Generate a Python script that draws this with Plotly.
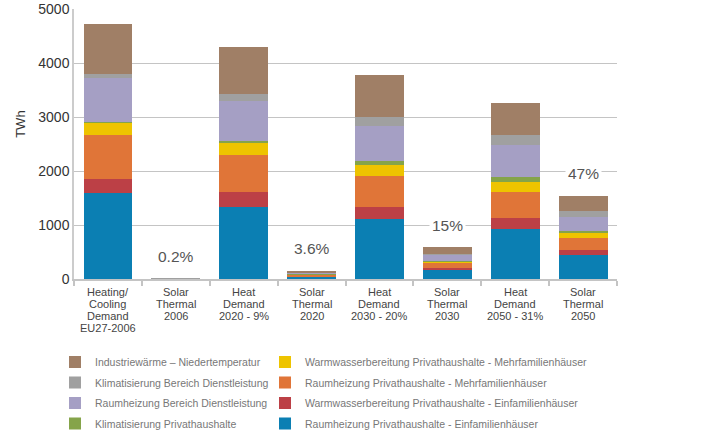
import plotly.graph_objects as go

categories = ["Heating/Cooling Demand EU27-2006", "Solar Thermal 2006",
              "Heat Demand 2020 - 9%", "Solar Thermal 2020",
              "Heat Demand 2030 - 20%", "Solar Thermal 2030",
              "Heat Demand 2050 - 31%", "Solar Thermal 2050"]
category_lines = [["Heating/", "Cooling", "Demand", "EU27-2006"],
                  ["Solar", "Thermal", "2006"],
                  ["Heat", "Demand", "2020 - 9%"],
                  ["Solar", "Thermal", "2020"],
                  ["Heat", "Demand", "2030 - 20%"],
                  ["Solar", "Thermal", "2030"],
                  ["Heat", "Demand", "2050 - 31%"],
                  ["Solar", "Thermal", "2050"]]

# stacked from bottom to top (TWh)
raum_efh = [1599, 0, 1340, 50, 1117, 179, 932, 451]
ww_efh = [259, 13, 277, 4, 223, 19, 204, 92]
raum_mfh = [815, 0, 685, 30, 574, 99, 481, 222]
ww_mfh = [222, 0, 229, 8, 203, 31, 185, 93]
klima_priv = [19, 0, 31, 15, 74, 6, 81, 37]
raum_dl = [814, 0, 740, 12, 649, 111, 592, 259]
klima_dl = [74, 2, 130, 6, 166, 19, 198, 111]
industrie = [926, 0, 870, 28, 778, 123, 592, 278]

solar_share_labels = {"Solar Thermal 2006": "0.2%", "Solar Thermal 2020": "3.6%",
                      "Solar Thermal 2030": "15%", "Solar Thermal 2050": "47%"}

y_ticks = [0, 1000, 2000, 3000, 4000, 5000]
y_title = "TWh"

series = [
    ("Raumheizung Privathaushalte - Einfamilienhäuser", raum_efh, "#0b7fb3", "legend2", 4),
    ("Warmwasserbereitung Privathaushalte - Einfamilienhäuser", ww_efh, "#bc4046", "legend2", 3),
    ("Raumheizung Privathaushalte - Mehrfamilienhäuser", raum_mfh, "#e07538", "legend2", 2),
    ("Warmwasserbereitung Privathaushalte - Mehrfamilienhäuser", ww_mfh, "#eec400", "legend2", 1),
    ("Klimatisierung Privathaushalte", klima_priv, "#85a44a", "legend", 4),
    ("Raumheizung Bereich Dienstleistung", raum_dl, "#a59fc4", "legend", 3),
    ("Klimatisierung Bereich Dienstleistung", klima_dl, "#a0a0a0", "legend", 2),
    ("Industriewärme – Niedertemperatur", industrie, "#a07f66", "legend", 1),
]

REG = "Liberation Sans, Arial, sans-serif"

fig = go.Figure()
for name, vals, color, leg, rank in series:
    fig.add_trace(go.Bar(x=categories, y=vals, name=name, marker_color=color,
                         marker_line_width=0, legend=leg, legendrank=rank,
                         legendgroup=name))

totals = [sum(s[1][i] for s in series) for i in range(len(categories))]

annotations = []
for i, cat in enumerate(categories):
    if cat in solar_share_labels:
        annotations.append(dict(x=cat, y=totals[i], xref="x", yref="y",
                                text=solar_share_labels[cat], showarrow=False,
                                yshift=22, font=dict(family=REG, size=15.5, color="#555"),
                                bgcolor="white", borderpad=2))
    for j, line in enumerate(category_lines[i]):
        annotations.append(dict(x=cat, y=0, xref="x", yref="paper", text=line,
                                showarrow=False, yanchor="middle",
                                yshift=-12.5 - 12.2 * j,
                                font=dict(family=REG, size=11, color="#444")))

# y-axis title
annotations.append(dict(x=-53 / 543, y=0.571, xref="paper", yref="paper", text=y_title,
                        textangle=-90, showarrow=False, xanchor="center", yanchor="middle",
                        font=dict(family=REG, size=13, color="#333")))

legend_common = dict(xref="container", yref="container", xanchor="left", yanchor="top",
                     orientation="v", traceorder="grouped", tracegroupgap=1.5,
                     font=dict(family=REG, size=10.5, color="#777"),
                     bgcolor="rgba(0,0,0,0)")

fig.update_layout(
    width=713, height=434,
    margin=dict(l=74, r=96, t=9, b=155, autoexpand=False),
    paper_bgcolor="white", plot_bgcolor="white",
    barmode="stack", bargap=0.28,
    xaxis=dict(type="category", showticklabels=False, showline=True, linecolor="#c4c4c4",
               linewidth=1.5, ticks="outside", tickson="boundaries", ticklen=5,
               tickcolor="#c4c4c4", tickwidth=1.5, showgrid=False),
    yaxis=dict(range=[0, 5000], tickvals=y_ticks, showline=True, linecolor="#cccccc",
               linewidth=1.5, gridcolor="#c4c4c4", gridwidth=1.2, zeroline=False,
               ticks="", tickfont=dict(family=REG, size=14, color="#333")),
    legend=dict(x=55 / 713, y=1 - 347.5 / 434, **legend_common),
    legend2=dict(x=265 / 713, y=1 - 347.5 / 434, **legend_common),
    annotations=annotations,
    showlegend=True,
)

fig.write_html("out.html", config={"displayModeBar": False},
               post_script="document.body.style.margin='0';")
